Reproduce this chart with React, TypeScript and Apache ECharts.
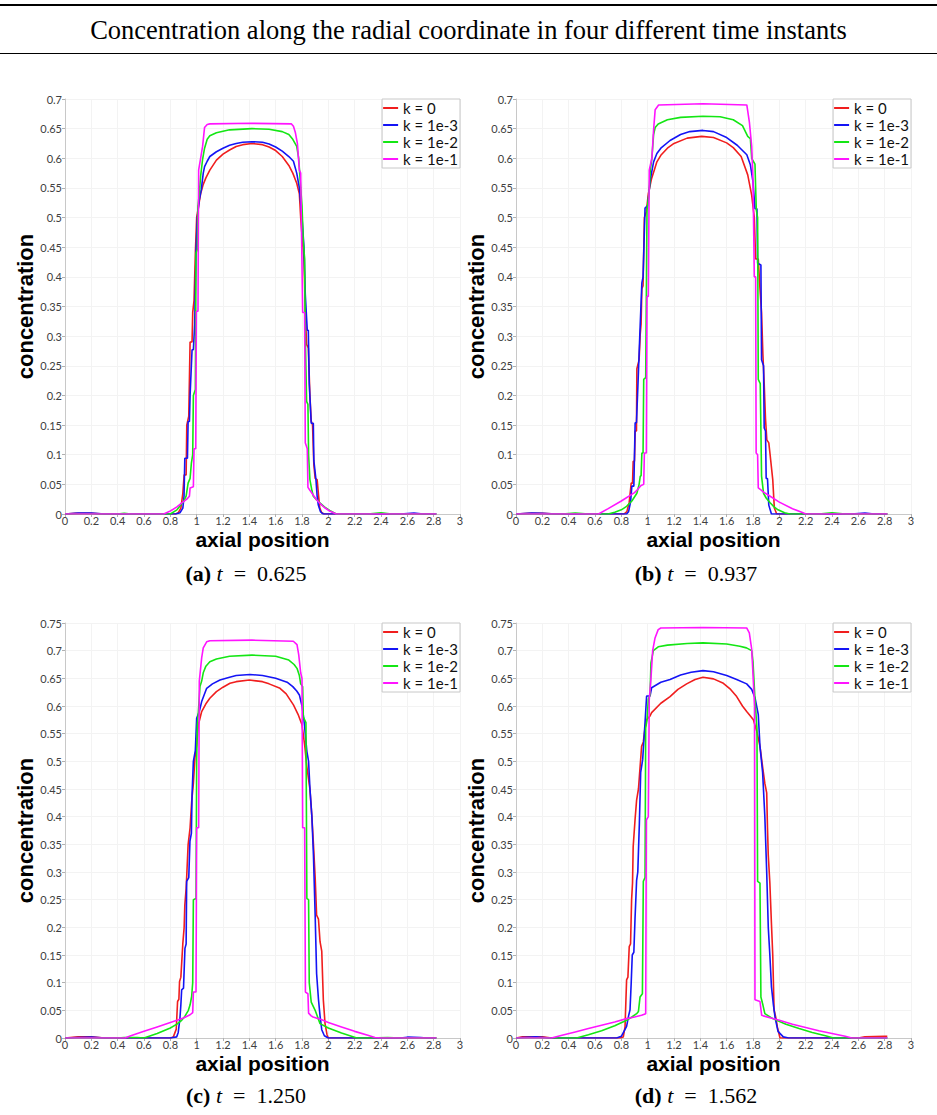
import React, { useEffect, useRef } from "react";
import * as echarts from "echarts";

// ---------- data ----------
const legendNames = ["k = 0", "k = 1e-3", "k = 1e-2", "k = 1e-1"];
const seriesColors = ["#f01e1e", "#1414f5", "#14e614", "#ff14ff"];
const panelLetters = ["(a)", "(b)", "(c)", "(d)"];
const timeLabels = ["0.625", "0.937", "1.250", "1.562"];
const yMaxes = [0.7, 0.7, 0.75, 0.75];
const xMax = 3;
const xInterval = 0.2;
const yInterval = 0.05;

// panel (a) t = 0.625
const redA = [[0,0],[0.08,0.001],[0.2,0.001],[0.3,0],[0.84,0],[0.86,0.002],[0.88,0.01],[0.895,0.035],[0.905,0.066],[0.92,0.066],[0.925,0.15],[0.94,0.165],[0.95,0.29],[0.965,0.29],[0.97,0.34],[0.98,0.36],[0.99,0.44],[1.0,0.5],[1.015,0.52],[1.03,0.54],[1.05,0.556],[1.07,0.567],[1.1,0.58],[1.15,0.597],[1.2,0.607],[1.25,0.614],[1.3,0.62],[1.35,0.623],[1.42,0.625],[1.5,0.623],[1.55,0.619],[1.6,0.613],[1.65,0.603],[1.7,0.588],[1.73,0.575],[1.76,0.558],[1.78,0.54],[1.79,0.5],[1.8,0.47],[1.815,0.43],[1.825,0.34],[1.835,0.286],[1.848,0.28],[1.86,0.2],[1.87,0.157],[1.88,0.15],[1.89,0.083],[1.9,0.06],[1.915,0.058],[1.925,0.033],[1.935,0.01],[1.95,0.002],[1.97,0],[2.82,0]];
const blueA = [[0,0],[0.1,0.0015],[0.2,0.0015],[0.3,0],[0.84,0],[0.873,0.002],[0.895,0.01],[0.904,0.03],[0.91,0.094],[0.93,0.094],[0.935,0.156],[0.945,0.156],[0.95,0.2],[0.965,0.277],[0.975,0.277],[0.985,0.32],[0.995,0.44],[1.005,0.5],[1.02,0.53],[1.035,0.547],[1.05,0.575],[1.06,0.586],[1.08,0.595],[1.1,0.603],[1.15,0.611],[1.2,0.617],[1.25,0.622],[1.3,0.625],[1.35,0.627],[1.42,0.628],[1.5,0.627],[1.55,0.624],[1.6,0.619],[1.65,0.612],[1.7,0.603],[1.735,0.595],[1.76,0.575],[1.78,0.55],[1.8,0.5],[1.815,0.45],[1.825,0.37],[1.84,0.31],[1.848,0.31],[1.855,0.22],[1.87,0.153],[1.886,0.153],[1.89,0.09],[1.906,0.058],[1.915,0.03],[1.924,0.015],[1.94,0.004],[1.96,0],[2.55,0],[2.65,0.0015],[2.72,0],[2.82,0]];
const greenA = [[0,0],[0.4,0],[0.45,0.001],[0.5,0],[0.8,0],[0.85,0.007],[0.9,0.021],[0.92,0.03],[0.935,0.052],[0.95,0.06],[0.96,0.086],[0.97,0.1],[0.975,0.2],[0.99,0.21],[0.995,0.44],[1.005,0.446],[1.01,0.52],[1.02,0.54],[1.03,0.57],[1.045,0.598],[1.06,0.617],[1.08,0.632],[1.1,0.638],[1.15,0.643],[1.25,0.648],[1.42,0.65],[1.55,0.649],[1.65,0.645],[1.7,0.64],[1.73,0.632],[1.76,0.62],[1.775,0.6],[1.79,0.55],[1.8,0.52],[1.81,0.46],[1.82,0.43],[1.825,0.3],[1.835,0.19],[1.845,0.185],[1.85,0.1],[1.86,0.058],[1.875,0.04],[1.886,0.03],[1.91,0.024],[1.94,0.018],[1.97,0.012],[2.01,0.006],[2.06,0],[2.3,0],[2.4,0.002],[2.48,0],[2.82,0]];
const magentaA = [[0,0],[0.75,0],[0.8,0.005],[0.85,0.012],[0.89,0.019],[0.925,0.025],[0.945,0.03],[0.95,0.044],[0.975,0.046],[0.98,0.11],[0.993,0.11],[0.998,0.342],[1.01,0.342],[1.015,0.58],[1.03,0.6],[1.045,0.62],[1.06,0.652],[1.08,0.657],[1.1,0.658],[1.42,0.659],[1.72,0.658],[1.735,0.654],[1.75,0.643],[1.765,0.625],[1.78,0.58],[1.79,0.575],[1.805,0.34],[1.82,0.34],[1.825,0.12],[1.84,0.11],[1.845,0.045],[1.86,0.04],[1.885,0.032],[1.91,0.024],[1.94,0.017],[1.97,0.011],[2.01,0.005],[2.06,0],[2.82,0]];

// panel (b) t = 0.937
const redB = [[0,0],[0.1,0.001],[0.2,0.001],[0.3,0],[0.82,0],[0.842,0.004],[0.86,0.02],[0.875,0.052],[0.885,0.052],[0.89,0.089],[0.9,0.089],[0.905,0.14],[0.915,0.14],[0.918,0.245],[0.935,0.26],[0.943,0.302],[0.95,0.32],[0.956,0.38],[0.965,0.385],[0.975,0.5],[0.99,0.51],[1.005,0.54],[1.03,0.566],[1.05,0.58],[1.07,0.594],[1.1,0.605],[1.15,0.617],[1.2,0.625],[1.3,0.634],[1.41,0.637],[1.5,0.635],[1.6,0.626],[1.65,0.618],[1.71,0.603],[1.76,0.572],[1.79,0.538],[1.81,0.5],[1.82,0.43],[1.84,0.43],[1.853,0.38],[1.865,0.34],[1.875,0.27],[1.885,0.22],[1.895,0.16],[1.905,0.125],[1.92,0.12],[1.93,0.1],[1.95,0.058],[1.962,0.01],[1.98,0],[2.82,0]];
const blueB = [[0,0],[0.12,0.0015],[0.2,0.001],[0.3,0],[0.84,0],[0.855,0.004],[0.87,0.02],[0.88,0.047],[0.895,0.047],[0.905,0.154],[0.915,0.154],[0.93,0.24],[0.94,0.3],[0.956,0.39],[0.965,0.4],[0.98,0.516],[1.0,0.52],[1.02,0.564],[1.045,0.594],[1.07,0.608],[1.1,0.617],[1.17,0.63],[1.25,0.64],[1.32,0.645],[1.42,0.647],[1.5,0.645],[1.6,0.635],[1.68,0.622],[1.753,0.606],[1.78,0.589],[1.8,0.56],[1.815,0.515],[1.83,0.515],[1.835,0.423],[1.86,0.42],[1.865,0.26],[1.88,0.25],[1.885,0.145],[1.895,0.14],[1.9,0.06],[1.91,0.06],[1.92,0.015],[1.94,0],[2.55,0],[2.65,0.0015],[2.72,0],[2.82,0]];
const greenB = [[0,0],[0.35,0],[0.45,0.0015],[0.55,0],[0.7,0],[0.75,0.003],[0.8,0.007],[0.84,0.013],[0.88,0.022],[0.918,0.035],[0.935,0.05],[0.944,0.064],[0.95,0.064],[0.956,0.103],[0.965,0.103],[0.97,0.227],[0.985,0.23],[0.995,0.513],[1.01,0.54],[1.02,0.58],[1.032,0.6],[1.045,0.64],[1.057,0.652],[1.08,0.658],[1.15,0.665],[1.25,0.669],[1.42,0.671],[1.55,0.67],[1.65,0.665],[1.72,0.655],[1.76,0.637],[1.78,0.633],[1.79,0.6],[1.815,0.59],[1.825,0.513],[1.835,0.5],[1.84,0.227],[1.855,0.22],[1.865,0.064],[1.88,0.035],[1.9,0.027],[1.93,0.019],[1.96,0.012],[1.99,0.007],[2.04,0.002],[2.08,0],[2.3,0],[2.4,0.002],[2.5,0],[2.82,0]];
const magentaB = [[0,0],[0.627,0],[0.7,0.009],[0.8,0.022],[0.9,0.036],[0.918,0.04],[0.95,0.048],[0.97,0.05],[0.975,0.103],[0.99,0.103],[0.995,0.367],[1.005,0.367],[1.012,0.58],[1.032,0.6],[1.045,0.648],[1.057,0.682],[1.083,0.69],[1.42,0.692],[1.753,0.69],[1.773,0.66],[1.79,0.62],[1.8,0.564],[1.81,0.4],[1.82,0.4],[1.824,0.103],[1.835,0.1],[1.84,0.044],[1.865,0.04],[1.88,0.037],[1.93,0.03],[2.0,0.02],[2.1,0.009],[2.18,0.002],[2.2,0],[2.82,0]];

// panel (c) t = 1.250
const redC = [[0,0],[0.1,0.002],[0.2,0.002],[0.3,0],[0.8,0],[0.823,0.002],[0.845,0.016],[0.855,0.066],[0.865,0.07],[0.87,0.102],[0.88,0.11],[0.895,0.171],[0.905,0.2],[0.91,0.24],[0.92,0.27],[0.925,0.295],[0.935,0.349],[0.95,0.38],[0.962,0.427],[0.975,0.46],[0.987,0.506],[1.0,0.53],[1.013,0.566],[1.038,0.59],[1.07,0.604],[1.1,0.614],[1.15,0.626],[1.2,0.634],[1.253,0.641],[1.3,0.644],[1.4,0.647],[1.5,0.644],[1.55,0.64],[1.633,0.632],[1.68,0.622],[1.735,0.602],[1.77,0.585],[1.8,0.566],[1.82,0.53],[1.837,0.49],[1.86,0.45],[1.875,0.4],[1.887,0.35],[1.9,0.29],[1.911,0.222],[1.925,0.215],[1.937,0.174],[1.95,0.157],[1.962,0.069],[1.975,0.026],[1.99,0.006],[2.0,0],[2.82,0]];
const blueC = [[0,0],[0.1,0.001],[0.2,0.0015],[0.3,0],[0.8,0],[0.848,0.002],[0.86,0.01],[0.873,0.036],[0.88,0.06],[0.886,0.087],[0.9,0.09],[0.911,0.162],[0.92,0.17],[0.924,0.283],[0.94,0.29],[0.949,0.356],[0.96,0.37],[0.965,0.44],[0.975,0.5],[0.99,0.52],[1.0,0.578],[1.02,0.59],[1.038,0.608],[1.076,0.632],[1.12,0.64],[1.177,0.647],[1.25,0.652],[1.3,0.655],[1.405,0.657],[1.5,0.655],[1.6,0.65],[1.687,0.643],[1.73,0.635],[1.76,0.627],[1.78,0.62],[1.8,0.6],[1.815,0.575],[1.837,0.518],[1.85,0.5],[1.86,0.452],[1.875,0.4],[1.887,0.33],[1.9,0.222],[1.911,0.116],[1.925,0.07],[1.937,0.04],[1.95,0.015],[1.97,0.004],[2.0,0],[2.55,0],[2.6,0.0015],[2.7,0.001],[2.75,0],[2.82,0]];
const greenC = [[0,0],[0.4,0],[0.45,0.001],[0.55,0.001],[0.6,0],[0.7,0.008],[0.8,0.018],[0.85,0.025],[0.886,0.032],[0.91,0.039],[0.937,0.05],[0.95,0.06],[0.962,0.075],[0.97,0.1],[0.975,0.25],[0.995,0.252],[1.0,0.5],[1.005,0.566],[1.013,0.59],[1.025,0.635],[1.038,0.645],[1.05,0.66],[1.07,0.672],[1.1,0.68],[1.15,0.685],[1.25,0.69],[1.42,0.692],[1.6,0.69],[1.7,0.683],[1.74,0.675],[1.762,0.668],[1.78,0.655],[1.79,0.64],[1.805,0.635],[1.81,0.58],[1.83,0.57],[1.837,0.252],[1.85,0.25],[1.855,0.1],[1.87,0.065],[1.9,0.05],[1.937,0.026],[2.0,0.018],[2.1,0.009],[2.216,0],[2.3,0],[2.45,0.001],[2.55,0],[2.82,0]];
const magentaC = [[0,0],[0.456,0],[0.5,0.004],[0.6,0.012],[0.7,0.02],[0.8,0.028],[0.85,0.032],[0.9,0.036],[0.95,0.042],[0.97,0.046],[0.975,0.083],[0.995,0.083],[1.0,0.38],[1.015,0.38],[1.02,0.645],[1.038,0.687],[1.05,0.705],[1.076,0.716],[1.1,0.718],[1.42,0.719],[1.734,0.717],[1.762,0.711],[1.775,0.693],[1.79,0.66],[1.8,0.65],[1.805,0.38],[1.82,0.38],[1.826,0.083],[1.845,0.08],[1.85,0.045],[1.87,0.04],[1.884,0.038],[1.95,0.033],[2.0,0.028],[2.1,0.02],[2.2,0.012],[2.3,0.005],[2.354,0.001],[2.4,0],[2.82,0]];

// panel (d) t = 1.562
const redD = [[0,0],[0.05,0.002],[0.2,0.002],[0.27,0],[0.79,0],[0.815,0.002],[0.828,0.02],[0.84,0.105],[0.85,0.11],[0.86,0.165],[0.87,0.17],[0.878,0.25],[0.885,0.28],[0.89,0.346],[0.904,0.394],[0.916,0.43],[0.93,0.45],[0.954,0.527],[0.967,0.535],[0.98,0.56],[0.992,0.575],[1.018,0.582],[1.03,0.588],[1.1,0.605],[1.17,0.617],[1.23,0.63],[1.296,0.64],[1.36,0.648],[1.42,0.652],[1.5,0.649],[1.575,0.641],[1.63,0.63],[1.676,0.617],[1.72,0.6],[1.752,0.59],[1.78,0.582],[1.803,0.575],[1.828,0.555],[1.853,0.527],[1.873,0.49],[1.89,0.46],[1.904,0.443],[1.91,0.38],[1.916,0.33],[1.928,0.28],[1.94,0.207],[1.95,0.15],[1.96,0.051],[1.975,0.035],[1.985,0.02],[2.005,0],[2.6,0],[2.65,0.002],[2.8,0.003],[2.82,0.003]];
const blueD = [[0,0],[0.05,0.001],[0.15,0.002],[0.25,0],[0.765,0],[0.8,0.003],[0.84,0.021],[0.855,0.04],[0.866,0.051],[0.875,0.1],[0.883,0.15],[0.895,0.155],[0.904,0.216],[0.91,0.25],[0.916,0.285],[0.925,0.3],[0.937,0.388],[0.947,0.48],[0.962,0.503],[0.98,0.57],[0.992,0.618],[1.018,0.618],[1.03,0.633],[1.1,0.643],[1.17,0.648],[1.25,0.656],[1.33,0.661],[1.42,0.664],[1.5,0.662],[1.6,0.655],[1.676,0.648],[1.752,0.64],[1.79,0.63],[1.815,0.615],[1.84,0.585],[1.853,0.527],[1.873,0.48],[1.89,0.4],[1.904,0.3],[1.916,0.2],[1.928,0.15],[1.94,0.093],[1.955,0.06],[1.967,0.038],[1.99,0.012],[2.03,0.002],[2.07,0],[2.82,0]];
const greenD = [[0,0],[0.46,0],[0.55,0.006],[0.65,0.013],[0.75,0.022],[0.84,0.032],[0.88,0.038],[0.916,0.044],[0.93,0.048],[0.942,0.074],[0.96,0.08],[0.967,0.283],[0.98,0.29],[0.985,0.56],[0.995,0.575],[1.005,0.612],[1.018,0.62],[1.025,0.678],[1.043,0.7],[1.08,0.707],[1.15,0.71],[1.3,0.713],[1.42,0.714],[1.6,0.712],[1.7,0.708],[1.75,0.705],[1.79,0.7],[1.8,0.68],[1.815,0.612],[1.83,0.56],[1.835,0.283],[1.853,0.28],[1.86,0.074],[1.875,0.06],[1.89,0.044],[1.95,0.035],[2.05,0.025],[2.15,0.017],[2.25,0.01],[2.35,0.004],[2.41,0],[2.82,0]];
const magentaD = [[0,0],[0.27,0],[0.35,0.005],[0.45,0.011],[0.55,0.017],[0.65,0.023],[0.75,0.029],[0.84,0.035],[0.9,0.038],[0.954,0.041],[0.985,0.044],[0.99,0.394],[1.005,0.4],[1.012,0.612],[1.025,0.65],[1.038,0.7],[1.056,0.723],[1.08,0.738],[1.1,0.741],[1.42,0.742],[1.752,0.741],[1.772,0.732],[1.79,0.703],[1.803,0.643],[1.812,0.6],[1.815,0.069],[1.853,0.066],[1.866,0.041],[1.878,0.04],[2.0,0.032],[2.1,0.025],[2.2,0.019],[2.3,0.013],[2.4,0.008],[2.5,0.003],[2.55,0],[2.82,0]];

const panelSeries = [
  [redA, blueA, greenA, magentaA],
  [redB, blueB, greenB, magentaB],
  [redC, blueC, greenC, magentaC],
  [redD, blueD, greenD, magentaD],
];

// ---------- layout ----------
const W = 937;
const H = 1115;
const grids = [
  { left: 65, top: 99, width: 395, height: 415 },
  { left: 516, top: 99, width: 395, height: 415 },
  { left: 65, top: 623, width: 395, height: 415 },
  { left: 516, top: 623, width: 395, height: 415 },
];
const captionPos = [
  [246, 573],
  [696, 573],
  [246, 1095],
  [696, 1095],
];

const sansFont = "Lato, 'DejaVu Sans', sans-serif";
const boldFont = "'Liberation Sans', Arial, sans-serif";
const serifFont = "'Liberation Serif', 'Times New Roman', serif";

function buildOption() {
  const xAxis = grids.map((_, i) => ({
    type: "value",
    gridIndex: i,
    min: 0,
    max: xMax,
    interval: xInterval,
    name: "axial position",
    nameLocation: "middle",
    nameGap: 25,
    nameTextStyle: {
      fontFamily: boldFont,
      fontWeight: "bold",
      fontSize: 21,
      color: "#000",
      verticalAlign: "middle",
      lineHeight: 14,
    },
    axisLine: { show: true, lineStyle: { color: "#c8c8c8", width: 1 } },
    axisTick: { show: true, length: 3, lineStyle: { color: "#b0b0b0" } },
    axisLabel: { fontFamily: sansFont, fontSize: 11, color: "#404040", margin: 1, lineHeight: 10 },
    splitLine: { show: true, lineStyle: { color: "#f3f3f3", width: 1 } },
  }));
  const yAxis = grids.map((_, i) => ({
    type: "value",
    gridIndex: i,
    min: 0,
    max: yMaxes[i],
    interval: yInterval,
    name: "concentration",
    nameLocation: "middle",
    nameRotate: 90,
    nameGap: 35,
    nameTextStyle: {
      fontFamily: boldFont,
      fontWeight: "bold",
      fontSize: 22,
      color: "#000",
      verticalAlign: "middle",
      lineHeight: 14,
    },
    axisLine: { show: true, lineStyle: { color: "#c8c8c8", width: 1 } },
    axisTick: { show: true, length: 3, lineStyle: { color: "#b0b0b0" } },
    axisLabel: { fontFamily: sansFont, fontSize: 11, color: "#404040", margin: 3 },
    splitLine: { show: true, lineStyle: { color: "#f3f3f3", width: 1 } },
  }));
  const series: any[] = [];
  panelSeries.forEach((list, i) => {
    list.forEach((data, j) => {
      series.push({
        type: "line",
        name: legendNames[j],
        xAxisIndex: i,
        yAxisIndex: i,
        data,
        symbol: "none",
        showSymbol: false,
        lineStyle: { color: seriesColors[j], width: 1.6 },
        itemStyle: { color: seriesColors[j] },
        emphasis: { disabled: true },
      });
    });
  });
  const legend = grids.map((g) => ({
    data: legendNames,
    orient: "vertical",
    right: W - (g.left + g.width),
    top: g.top,
    icon: "rect",
    itemWidth: 15,
    itemHeight: 2,
    itemGap: 1,
    padding: [1, 2, 1, 1],
    borderColor: "#c8c8c8",
    borderWidth: 1,
    backgroundColor: "#fff",
    textStyle: { fontFamily: sansFont, fontSize: 15, color: "#111", lineHeight: 16 },
    selectedMode: false,
  }));
  const graphic: any[] = [
    { type: "rect", shape: { x: 0, y: 4, width: W, height: 2 }, style: { fill: "#000" } },
    { type: "rect", shape: { x: 0, y: 53, width: W, height: 1 }, style: { fill: "#000" } },
    {
      type: "text",
      x: W / 2,
      y: 30,
      style: {
        text: "Concentration along the radial coordinate in four different time instants",
        fontFamily: serifFont,
        fontSize: 26.5,
        fill: "#000",
        textAlign: "center",
        textVerticalAlign: "middle",
      },
    },
  ];
  captionPos.forEach(([cx, cy], i) => {
    graphic.push({
      type: "text",
      x: cx,
      y: cy,
      style: {
        text: `{b|${panelLetters[i]}} {i|t}  =  ${timeLabels[i]}`,
        fontFamily: serifFont,
        fontSize: 22,
        fill: "#000",
        textAlign: "center",
        textVerticalAlign: "middle",
        rich: {
          b: { fontFamily: serifFont, fontSize: 22, fontWeight: "bold", fill: "#000" },
          i: { fontFamily: serifFont, fontSize: 22, fontStyle: "italic", fill: "#000" },
        },
      },
    });
  });
  return {
    animation: false,
    backgroundColor: "#fff",
    grid: grids.map((g) => ({ ...g, containLabel: false })),
    xAxis,
    yAxis,
    legend,
    series,
    graphic,
  };
}

export default function App() {
  const ref = useRef<HTMLDivElement>(null);
  useEffect(() => {
    if (!ref.current) return;
    const chart = echarts.init(ref.current, undefined, { renderer: "svg" });
    chart.setOption(buildOption() as any);
    return () => chart.dispose();
  }, []);
  return (
    <div
      ref={ref}
      style={{ position: "absolute", left: 0, top: 0, width: W, height: H, background: "#fff" }}
    />
  );
}
